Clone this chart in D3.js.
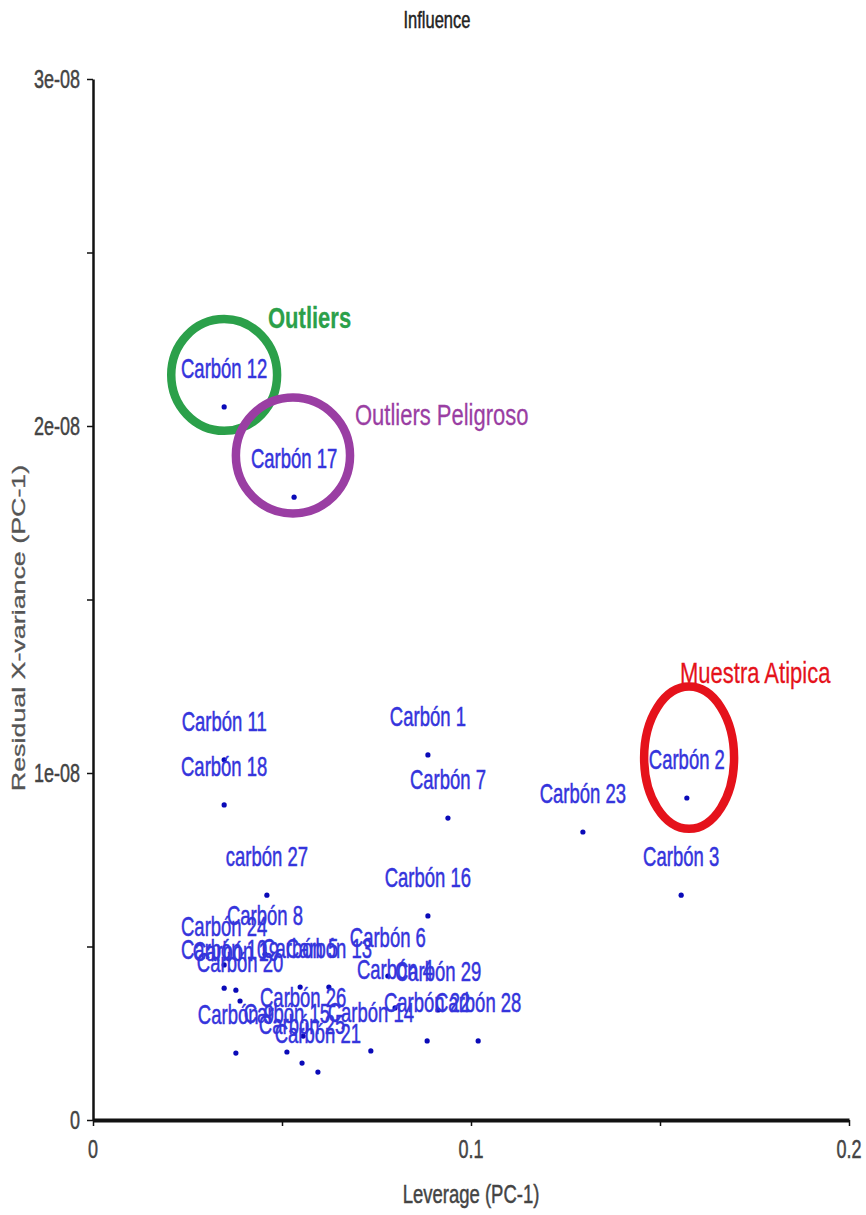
<!DOCTYPE html>
<html>
<head>
<meta charset="utf-8">
<script src="https://cdn.jsdelivr.net/npm/d3@7"></script>
<style>
  html, body { margin: 0; padding: 0; background: #fff; }
  svg { display: block; }
  text { font-family: "Liberation Sans", Arial, sans-serif; }
</style>
</head>
<body>
<svg id="chart" width="866" height="1215"></svg>
<script>
// Influence plot: leverage vs residual X-variance for PC-1
const sampleNames = [
  "Carbón 1", "Carbón 2", "Carbón 3", "Carbón 4", "Carbón 5", "Carbón 6",
  "Carbón 7", "Carbón 8", "Carbón 9", "Carbón 10", "Carbón 11", "Carbón 12",
  "Carbón 13", "Carbón 14", "Carbón 15", "Carbón 16", "Carbón 17", "Carbón 18",
  "Carbón 19", "Carbón 20", "Carbón 21", "Carbón 22", "Carbón 23", "Carbón 24",
  "Carbón 25", "Carbón 26", "carbón 27", "Carbón 28", "Carbón 29"
];
const leverage = [
  0.0886, 0.1571, 0.1556, 0.0799, 0.0548, 0.0780,
  0.0939, 0.0455, 0.0378, 0.0347, 0.0347, 0.0347,
  0.0624, 0.0735, 0.0513, 0.0886, 0.0532, 0.0347,
  0.0378, 0.0389, 0.0595, 0.0884, 0.1296, 0.0347,
  0.0553, 0.0556, 0.0460, 0.1019, 0.0913
];
const residualVar = [
  1.052e-8, 0.928e-8, 0.648e-8, 0.323e-8, 0.383e-8, 0.415e-8,
  0.870e-8, 0.478e-8, 0.193e-8, 0.380e-8, 1.038e-8, 2.055e-8,
  0.383e-8, 0.199e-8, 0.196e-8, 0.588e-8, 1.795e-8, 0.908e-8,
  0.374e-8, 0.343e-8, 0.138e-8, 0.228e-8, 0.830e-8, 0.447e-8,
  0.164e-8, 0.242e-8, 0.648e-8, 0.228e-8, 0.317e-8
];

// Axis ticks and their labels
const xTicks = [0, 0.05, 0.1, 0.15, 0.2];
const xTickLabels = ["0", "", "0.1", "", "0.2"];
const yTicks = [0, 0.5e-8, 1e-8, 1.5e-8, 2e-8, 2.5e-8, 3e-8];
const yTickLabels = ["0", "", "1e-08", "", "2e-08", "", "3e-08"];

// Highlight rings (centre in data units, radii in data units)
const ringNames = ["Outliers", "Outliers Peligroso", "Muestra Atipica"];
const ringCx = [0.0347, 0.0529, 0.1577];
const ringCy = [2.147e-8, 1.915e-8, 1.044e-8];
const ringRx = [0.0140, 0.0151, 0.0119];
const ringRy = [0.161e-8, 0.167e-8, 0.205e-8];
const ringColors = ["#2ba04a", "#9a3ea3", "#e5121b"];

// Ring captions (left edge and baseline in data units)
const captionX = [0.0463, 0.0693, 0.1553];
const captionY = [2.282e-8, 2.003e-8, 1.259e-8];
const captionWeight = ["bold", "normal", "normal"];

const svg = d3.select("#chart");
const x = d3.scaleLinear().domain([0, 0.2]).range([93, 849]);
const y = d3.scaleLinear().domain([0, 3e-8]).range([1120, 79]);

// Vertically stretched text helper
const SY = 1.5;
function label(g, px, py, str, opts) {
  return g.append("text")
    .attr("transform", `translate(${px},${py}) scale(${opts.sx || 1},${opts.sy || SY})`)
    .attr("text-anchor", opts.anchor || "middle")
    .attr("font-size", opts.size)
    .attr("font-weight", opts.weight || "normal")
    .attr("fill", opts.fill)
    .attr("stroke", opts.fill)
    .attr("stroke-width", opts.sw || 0.35)
    .text(str);
}

// Title
label(svg, 437, 28, "Influence", { size: 16.5, fill: "#222", sy: 1.4 });

// Axes
const xAxis = svg.append("g")
  .attr("transform", `translate(0,${y(0)})`)
  .call(d3.axisBottom(x).tickValues(xTicks).tickFormat("").tickSize(6).tickSizeOuter(0));
xAxis.select(".domain").attr("stroke", "#111").attr("stroke-width", 4);
xAxis.selectAll(".tick line").attr("stroke", "#111").attr("stroke-width", 1.5);

const yAxis = svg.append("g")
  .attr("transform", `translate(${x(0)},0)`)
  .call(d3.axisLeft(y).tickValues(yTicks).tickFormat("").tickSize(6).tickSizeOuter(0));
yAxis.select(".domain").attr("stroke", "#111").attr("stroke-width", 2.5);
yAxis.selectAll(".tick line").attr("stroke", "#111").attr("stroke-width", 1.5);

xTicks.forEach((t, i) => {
  if (xTickLabels[i]) label(svg, x(t), y(0) + 38, xTickLabels[i], { size: 18, fill: "#444", sy: 1.4 });
});
yTicks.forEach((t, i) => {
  if (yTickLabels[i]) label(svg, x(0) - 13, y(t) + 9, yTickLabels[i], { size: 18, fill: "#444", anchor: "end", sy: 1.4 });
});

// Axis titles
label(svg, 471, 1203, "Leverage (PC-1)", { size: 18.5, fill: "#444", sy: 1.4 });
svg.append("text")
  .attr("transform", `translate(25,628) rotate(-90) scale(1.45,1)`)
  .attr("text-anchor", "middle")
  .attr("font-size", 18.5)
  .attr("fill", "#555")
  .attr("stroke", "#555")
  .attr("stroke-width", 0.3)
  .text("Residual X-variance (PC-1)");

// Points and their names
const pts = sampleNames.map((n, i) => ({ name: n, lev: leverage[i], res: residualVar[i] }));
const gp = svg.append("g");
gp.selectAll("circle").data(pts).join("circle")
  .attr("cx", d => x(d.lev))
  .attr("cy", d => y(d.res))
  .attr("r", 2.6)
  .attr("fill", "#0a0ab8");
pts.forEach(d => label(gp, x(d.lev), y(d.res) - 29, d.name, { size: 18.5, fill: "#3434dc" }));

// Highlight rings and captions
const gr = svg.append("g");
ringNames.forEach((n, i) => {
  gr.append("ellipse")
    .attr("cx", x(ringCx[i]))
    .attr("cy", y(ringCy[i]))
    .attr("rx", x(ringRx[i]) - x(0))
    .attr("ry", y(0) - y(ringRy[i]))
    .attr("fill", "none")
    .attr("stroke", ringColors[i])
    .attr("stroke-width", 8.5);
  label(gr, x(captionX[i]), y(captionY[i]), n, {
    size: 22, weight: captionWeight[i],
    fill: ringColors[i], anchor: "start", sy: 1.35, sw: 0.2
  });
});
</script>
</body>
</html>
